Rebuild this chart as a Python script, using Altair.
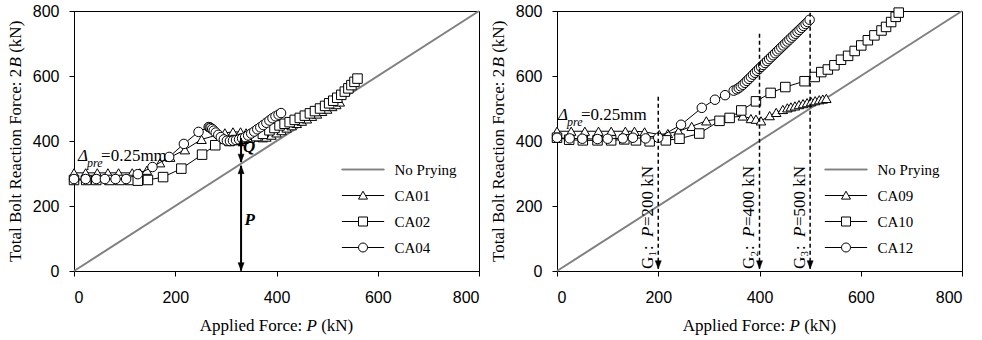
import altair as alt
import pandas as pd

SERIF = "Liberation Serif"
SANS = "Liberation Sans"
W, H = 405, 260

# ---------------- data: left panel ----------------
ca01_x = [0, 23, 46, 67, 88, 115, 130, 144, 170, 190, 219, 252, 298, 314, 329, 340, 350, 358, 366, 373,
          380, 390, 400, 410, 420, 430, 440, 450, 460, 470, 480, 490, 500, 510, 518, 525]
ca01_y = [302, 302, 302, 302, 302, 302, 302, 310, 333, 350, 373, 405, 425, 428, 428, 425, 420, 415, 412, 410,
          412, 418, 425, 432, 440, 447, 454, 461, 468, 476, 483, 491, 498, 506, 512, 520]

ca02_x = [0, 24, 44, 70, 90, 110, 126, 146, 176, 212, 253, 279, 307, 320, 335, 347, 360, 373, 386, 396,
          406, 416, 426, 436, 446, 456, 466, 476, 486, 496, 504, 512, 520, 528, 535, 542, 548, 554, 560]
ca02_y = [280, 280, 280, 280, 280, 280, 278, 280, 289, 315, 358, 387, 400, 403, 407, 410, 415, 422, 433, 440,
          448, 453, 458, 465, 471, 478, 485, 492, 500, 508, 516, 524, 533, 542, 552, 562, 572, 582, 592]

ca04_x = [0, 23, 44, 61, 82, 103, 126, 155, 188, 217, 246, 266, 268, 270, 273, 276, 280, 285, 290, 296,
          302, 308, 314, 320, 326, 332, 338, 344, 350, 356, 362, 368, 374, 380, 386, 392, 398, 404, 409]
ca04_y = [283, 283, 283, 283, 283, 283, 298, 320, 351, 391, 428, 443, 442, 440, 437, 432, 426, 419, 412, 405,
          401, 400, 401, 403, 405, 408, 412, 417, 423, 429, 436, 442, 449, 456, 463, 470, 476, 481, 486]

# ---------------- data: right panel ----------------
ca09_x = [0, 28, 55, 82, 107, 135, 153, 173, 202, 219, 240, 266, 295, 334, 367, 383, 393, 403,
          420, 433, 446, 455, 462, 470, 478, 486, 494, 502, 510, 518, 525, 532]
ca09_y = [430, 430, 430, 430, 430, 430, 430, 428, 420, 423, 430, 445, 462, 471, 477, 469, 467, 462,
          478, 488, 497, 502, 505, 508, 512, 515, 518, 521, 524, 527, 529, 531]

ca10_x = [0, 24, 51, 80, 107, 133, 156, 183, 215, 242, 281, 321, 341, 364, 393, 422, 451, 489, 509, 522,
          535, 548, 561, 575, 588, 601, 614, 627, 641, 650, 660, 669, 675]
ca10_y = [410, 404, 402, 402, 402, 405, 402, 399, 402, 407, 423, 462, 471, 494, 522, 548, 566, 584, 597, 612,
          620, 633, 650, 662, 677, 694, 710, 725, 740, 751, 766, 782, 795]

ca12_x = [0, 25, 50, 80, 100, 130, 150, 175, 200, 245, 286, 312, 332, 349, 355,
          359, 363, 367, 371, 375, 379, 383, 387, 391, 395, 399, 403, 407, 411, 415, 419, 423, 427,
          431, 435, 439, 443, 447, 451, 455, 459, 463, 467, 471, 475, 479, 483, 487, 491, 495, 499]
ca12_y = [410, 408, 407, 406, 407, 408, 410, 408, 410, 450, 502, 527, 541, 555, 559,
          563, 568, 573, 579, 585, 591, 597, 604, 610, 616, 622, 628, 634, 640, 646, 652, 658, 664,
          670, 676, 682, 688, 694, 700, 706, 712, 718, 724, 730, 736, 742, 748, 754, 760, 766, 773]

diag_x = [0, 800]
diag_y = [0, 800]
ticks = [0, 200, 400, 600, 800]

left_names = ["No Prying", "CA01", "CA02", "CA04"]
right_names = ["No Prying", "CA09", "CA10", "CA12"]

# annotations
dpre_left = ([8], [338])
dpre_right = ([2], [465])
q_arrow = ([330], [335], [409])      # x, bottom, top
p_arrow = ([330], [1], [324])
q_label = ([346], [383])
p_label = ([347], [157])
g_x = [200, 400, 500]
g_top = [540, 735, 797]
g_tip = [7, 7, 7]
g_start = [6, 6, 6]
g_sub = ["1", "2", "3"]
g_val = ["=200 kN", "=400 kN", "=500 kN"]

# ---------------- shapes ----------------
ARROW_DOWN = "M0,0L-0.6,-1.6L0.6,-1.6Z"
ARROW_UP = "M0,0L-0.6,1.6L0.6,1.6Z"
LEG_PATHS = [
    "M-4.7,-0.1H4.7V0.1H-4.7Z",
    "M-4.7,0H-0.5M0.5,0H4.7M0,-0.95L1,0.8H-1Z",
    "M-4.7,0H-1M1,0H4.7M-1,-1H1V1H-1Z",
    "M-4.7,0H-1M1,0H4.7M-1,0A1,1,0,1,1,1,0A1,1,0,1,1,-1,0Z",
]
LEG_STROKE = ["#808080", "black", "black", "black"]
LEG_FILL = ["#808080", "white", "white", "white"]

X = alt.X("x:Q", scale=alt.Scale(domain=[0, 800], nice=False, zero=False),
          axis=alt.Axis(values=ticks, title=None, grid=False))
Y = alt.Y("y:Q", scale=alt.Scale(domain=[0, 800], nice=False, zero=False),
          axis=alt.Axis(values=ticks, title=None, grid=False))


def text_layer(xs, ys, text, dx=0, dy=0, size=17, style="normal", weight="normal",
               angle=0, align="left", baseline="alphabetic"):
    df = pd.DataFrame({"x": xs, "y": ys})
    return alt.Chart(df).mark_text(
        text=text, font=SERIF, fontSize=size, fontStyle=style, fontWeight=weight,
        angle=angle, align=align, baseline=baseline, dx=dx, dy=dy, color="black"
    ).encode(x=X, y=Y)


def pix_text(px, py, text, dx=0, size=17, style="normal", angle=0):
    return alt.Chart(pd.DataFrame({"a": [0]})).mark_text(
        text=text, font=SERIF, fontSize=size, fontStyle=style, angle=angle,
        align="left", baseline="alphabetic", dx=dx, color="black"
    ).encode(x=alt.value(px), y=alt.value(py))


def dpre(pos):
    xs, ys = pos
    return [
        text_layer(xs, ys, "Δ", size=17, style="italic"),
        text_layer(xs, ys, "pre", dx=9, dy=6, size=12, style="italic"),
        text_layer(xs, ys, "=0.25mm", dx=23, size=17),
    ]


def series_layers(items):
    out = []
    for xs, ys, shp in items:
        df = pd.DataFrame({"x": xs, "y": ys, "i": list(range(len(xs)))})
        out.append(alt.Chart(df).mark_line(color="black", strokeWidth=1).encode(
            x=X, y=Y, order=alt.Order("i:Q")))
        out.append(alt.Chart(df).mark_point(shape=shp, size=90, filled=True, fill="white",
                                            stroke="black", strokeWidth=1, opacity=1).encode(x=X, y=Y))
    return out


def legend_layer(names):
    lg = alt.Legend(title=None, orient="none", legendX=281.5, legendY=151, padding=0,
                    labelFont=SERIF, labelFontSize=15, labelColor="black", labelOffset=24,
                    symbolSize=81, symbolStrokeWidth=1, symbolOpacity=1, rowPadding=10)
    df = pd.DataFrame({"series": names, "x": [0] * 4, "y": [0] * 4})
    return alt.Chart(df).mark_point(filled=True, opacity=0, size=81).encode(
        x=X, y=Y,
        shape=alt.Shape("series:N", scale=alt.Scale(domain=names, range=LEG_PATHS), legend=lg),
        stroke=alt.Stroke("series:N", scale=alt.Scale(domain=names, range=LEG_STROKE), legend=lg),
        fill=alt.Fill("series:N", scale=alt.Scale(domain=names, range=LEG_FILL), legend=lg),
    )


def titles():
    xt = 125.75
    yx, yy = -53, 251
    return [
        pix_text(xt, 320, "Applied Force: "),
        pix_text(xt + 106.7, 320, "P", style="italic"),
        pix_text(xt + 121.4, 320, "(kN)"),
        pix_text(yx, yy, "Total Bolt Reaction Force: 2", angle=270),
        pix_text(yx, yy, "B", dx=194.5, style="italic", angle=270),
        pix_text(yx, yy, "(kN)", dx=209.2, angle=270),
    ]


def arrow(xs, y0s, y1s, dash=None, width=2.0, up_head=True):
    df = pd.DataFrame({"x": xs, "y": y0s, "y2": y1s})
    kw = dict(color="black", strokeWidth=width)
    if dash:
        kw["strokeDash"] = dash
    layers = [alt.Chart(df).mark_rule(**kw).encode(x=X, y=Y, y2="y2:Q")]
    layers.append(alt.Chart(pd.DataFrame({"x": xs, "y": y0s})).mark_point(
        shape=ARROW_DOWN, size=100, filled=True, fill="black", stroke="black", strokeWidth=0.5, opacity=1
    ).encode(x=X, y=Y))
    if up_head:
        layers.append(alt.Chart(pd.DataFrame({"x": xs, "y": y1s})).mark_point(
            shape=ARROW_UP, size=100, filled=True, fill="black", stroke="black", strokeWidth=0.5, opacity=1
        ).encode(x=X, y=Y))
    return layers


diag = alt.Chart(pd.DataFrame({"x": diag_x, "y": diag_y})).mark_line(
    color="#808080", strokeWidth=2).encode(x=X, y=Y)

# ---------------- left panel ----------------
left_layers = [diag] + series_layers([
    (ca01_x, ca01_y, "triangle-up"),
    (ca02_x, ca02_y, "square"),
    (ca04_x, ca04_y, "circle"),
])
left_layers += arrow(q_arrow[0], q_arrow[1], q_arrow[2])
left_layers += arrow(p_arrow[0], p_arrow[1], p_arrow[2])
left_layers += [
    text_layer(q_label[0], q_label[1], "Q", style="italic", weight="bold", align="center", baseline="middle"),
    text_layer(p_label[0], p_label[1], "P", style="italic", weight="bold", align="center", baseline="middle"),
]
left_layers += dpre(dpre_left)
left_layers += titles()
left_layers.append(legend_layer(left_names))
left = alt.layer(*left_layers).properties(width=W, height=H)

# ---------------- right panel ----------------
right_layers = [diag] + series_layers([
    (ca09_x, ca09_y, "triangle-up"),
    (ca10_x, ca10_y, "square"),
    (ca12_x, ca12_y, "circle"),
])
right_layers += arrow(g_x, g_tip, g_top, dash=[4, 3], width=1.5, up_head=False)
for gx, gs, sub, val in zip(g_x, g_start, g_sub, g_val):
    right_layers += [
        text_layer([gx], [gs], "G", dy=-5.5, angle=270),
        text_layer([gx], [gs], sub, dx=12.5, dy=-2, size=11, angle=270),
        text_layer([gx], [gs], ":", dx=19, dy=-5.5, angle=270),
        text_layer([gx], [gs], "P", dx=32, dy=-5.5, style="italic", angle=270),
        text_layer([gx], [gs], val, dx=43, dy=-5.5, angle=270),
    ]
right_layers += dpre(dpre_right)
right_layers += titles()
right_layers.append(legend_layer(right_names))
right = alt.layer(*right_layers).properties(width=W, height=H)

chart = alt.hconcat(left, right, spacing=78, bounds="flush").resolve_scale(
    x="independent", y="independent", shape="independent", stroke="independent", fill="independent"
).resolve_legend(
    shape="independent", stroke="independent", fill="independent"
).configure_view(
    stroke="black", strokeWidth=1
).configure_axis(
    labelFont=SANS, labelFontSize=16, labelColor="black", tickColor="black", domainColor="black",
    tickSize=5, grid=False, domainWidth=1, tickWidth=1
).configure_axisX(labelPadding=13.5).configure_axisY(labelPadding=10).properties(
    padding={"left": 6, "top": 2, "right": 0, "bottom": 0}
)

chart.save("out.html", embed_options={"renderer": "svg", "actions": False})
